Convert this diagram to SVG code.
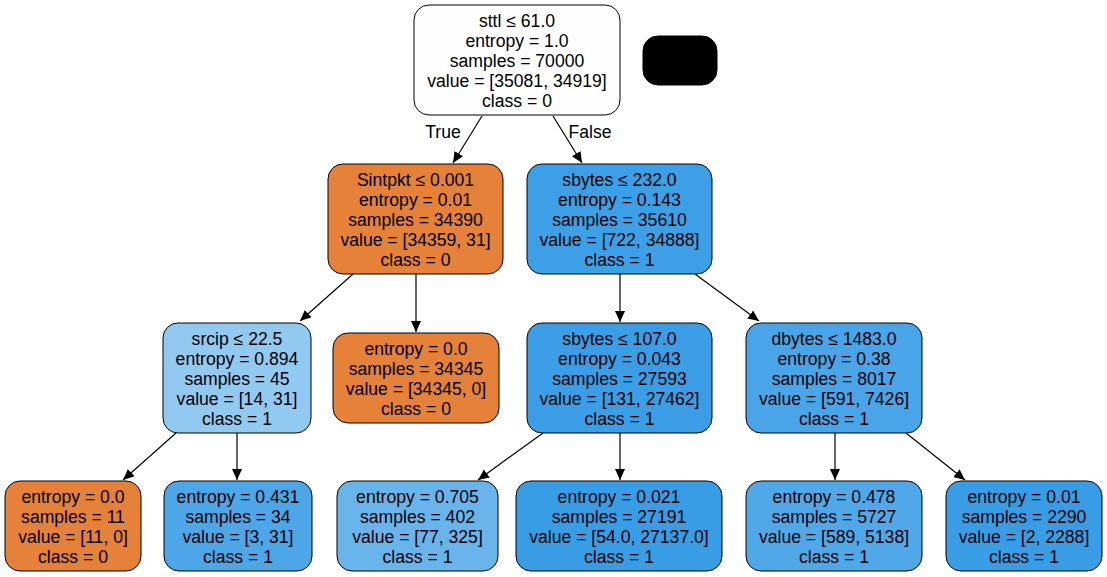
<svg xmlns="http://www.w3.org/2000/svg" width="1107" height="577" viewBox="0 0 1107 577">
<defs>
<marker id="ah" markerUnits="userSpaceOnUse" markerWidth="12" markerHeight="10" refX="11" refY="5" orient="auto">
<path d="M0,0 L11,5 L0,10 Z" fill="#000"/>
</marker>
<style>
.n{stroke:#000;stroke-width:1}
text{font-family:"Liberation Sans",Arial,sans-serif;font-size:17.6px;fill:#000;text-anchor:middle}
.e{stroke:#000;stroke-width:1.2;fill:none;marker-end:url(#ah)}
</style>
</defs>
<rect width="1107" height="577" fill="#fff"/>
<g id="connectors">
<line class="e" x1="482" y1="116" x2="453" y2="163"/>
<line class="e" x1="553" y1="116" x2="582" y2="163"/>
<line class="e" x1="353" y1="274" x2="300" y2="321"/>
<line class="e" x1="416" y1="274" x2="416" y2="332"/>
<line class="e" x1="620" y1="274" x2="620" y2="322"/>
<line class="e" x1="695" y1="274" x2="759" y2="321"/>
<line class="e" x1="176" y1="433" x2="123" y2="480"/>
<line class="e" x1="237" y1="433" x2="237" y2="480"/>
<line class="e" x1="543" y1="433" x2="478" y2="480"/>
<line class="e" x1="620" y1="433" x2="620" y2="480"/>
<line class="e" x1="835" y1="433" x2="835" y2="480"/>
<line class="e" x1="906" y1="433" x2="965" y2="480"/>
<text x="443" y="138">True</text>
<text x="590" y="138">False</text>
</g>
<g id="root">
<rect class="n" x="414" y="5" width="206" height="110" rx="15" fill="#fefefe"/>
<text x="517" y="27">sttl ≤ 61.0</text>
<text x="517" y="47">entropy = 1.0</text>
<text x="517" y="67">samples = 70000</text>
<text x="517" y="87">value = [35081, 34919]</text>
<text x="517" y="107">class = 0</text>
</g>
<g id="legend">
<rect x="643" y="36" width="74" height="49" rx="15" fill="#000" stroke="#000"/>
</g>
<g id="n1">
<rect class="n" x="328" y="164" width="175" height="110" rx="15" fill="#e58139"/>
<text x="415.5" y="186">Sintpkt ≤ 0.001</text>
<text x="415.5" y="206">entropy = 0.01</text>
<text x="415.5" y="226">samples = 34390</text>
<text x="415.5" y="246">value = [34359, 31]</text>
<text x="415.5" y="266">class = 0</text>
</g>
<g id="n2">
<rect class="n" x="527" y="164" width="185" height="110" rx="15" fill="#3d9fe6"/>
<text x="619.5" y="186">sbytes ≤ 232.0</text>
<text x="619.5" y="206">entropy = 0.143</text>
<text x="619.5" y="226">samples = 35610</text>
<text x="619.5" y="246">value = [722, 34888]</text>
<text x="619.5" y="266">class = 1</text>
</g>
<g id="n3">
<rect class="n" x="163" y="323" width="148" height="110" rx="15" fill="#92c9f1"/>
<text x="237" y="345">srcip ≤ 22.5</text>
<text x="237" y="365">entropy = 0.894</text>
<text x="237" y="385">samples = 45</text>
<text x="237" y="405">value = [14, 31]</text>
<text x="237" y="425">class = 1</text>
</g>
<g id="n4">
<rect class="n" x="333" y="333" width="166" height="90" rx="15" fill="#e58139"/>
<text x="416" y="355">entropy = 0.0</text>
<text x="416" y="375">samples = 34345</text>
<text x="416" y="395">value = [34345, 0]</text>
<text x="416" y="415">class = 0</text>
</g>
<g id="n5">
<rect class="n" x="527" y="323" width="185" height="110" rx="15" fill="#3a9de5"/>
<text x="619.5" y="345">sbytes ≤ 107.0</text>
<text x="619.5" y="365">entropy = 0.043</text>
<text x="619.5" y="385">samples = 27593</text>
<text x="619.5" y="405">value = [131, 27462]</text>
<text x="619.5" y="425">class = 1</text>
</g>
<g id="n6">
<rect class="n" x="746" y="323" width="176" height="110" rx="15" fill="#49a5e7"/>
<text x="834" y="345">dbytes ≤ 1483.0</text>
<text x="834" y="365">entropy = 0.38</text>
<text x="834" y="385">samples = 8017</text>
<text x="834" y="405">value = [591, 7426]</text>
<text x="834" y="425">class = 1</text>
</g>
<g id="n7">
<rect class="n" x="5" y="481" width="136" height="90" rx="15" fill="#e58139"/>
<text x="73" y="503">entropy = 0.0</text>
<text x="73" y="523">samples = 11</text>
<text x="73" y="543">value = [11, 0]</text>
<text x="73" y="563">class = 0</text>
</g>
<g id="n8">
<rect class="n" x="164" y="481" width="148" height="90" rx="15" fill="#4ca6e7"/>
<text x="238" y="503">entropy = 0.431</text>
<text x="238" y="523">samples = 34</text>
<text x="238" y="543">value = [3, 31]</text>
<text x="238" y="563">class = 1</text>
</g>
<g id="n9">
<rect class="n" x="337" y="481" width="161" height="90" rx="15" fill="#68b4eb"/>
<text x="417.5" y="503">entropy = 0.705</text>
<text x="417.5" y="523">samples = 402</text>
<text x="417.5" y="543">value = [77, 325]</text>
<text x="417.5" y="563">class = 1</text>
</g>
<g id="n10">
<rect class="n" x="516" y="481" width="206" height="90" rx="15" fill="#399de5"/>
<text x="619" y="503">entropy = 0.021</text>
<text x="619" y="523">samples = 27191</text>
<text x="619" y="543">value = [54.0, 27137.0]</text>
<text x="619" y="563">class = 1</text>
</g>
<g id="n11">
<rect class="n" x="746" y="481" width="176" height="90" rx="15" fill="#50a8e8"/>
<text x="834" y="503">entropy = 0.478</text>
<text x="834" y="523">samples = 5727</text>
<text x="834" y="543">value = [589, 5138]</text>
<text x="834" y="563">class = 1</text>
</g>
<g id="n12">
<rect class="n" x="946" y="481" width="156" height="90" rx="15" fill="#399de5"/>
<text x="1024" y="503">entropy = 0.01</text>
<text x="1024" y="523">samples = 2290</text>
<text x="1024" y="543">value = [2, 2288]</text>
<text x="1024" y="563">class = 1</text>
</g>
</svg>
